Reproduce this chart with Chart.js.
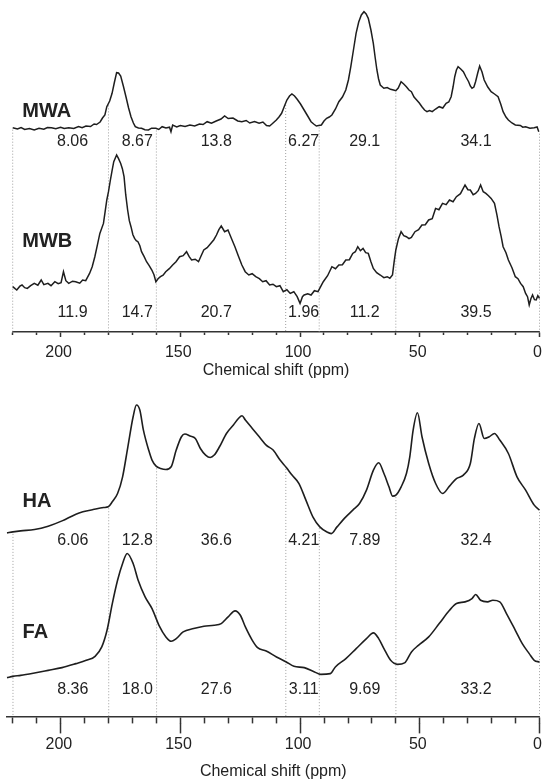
<!DOCTYPE html>
<html>
<head>
<meta charset="utf-8">
<script src="https://cdn.jsdelivr.net/npm/chart.js@4.4.1/dist/chart.umd.min.js"></script>
<style>
  html, body { margin: 0; padding: 0; background: #fff; overflow: hidden; }
  canvas { position: absolute; left: 0; }
</style>
</head>
<body>
<canvas id="topChart" width="542" height="390" style="top:0"></canvas>
<canvas id="bottomChart" width="542" height="391" style="top:390px"></canvas>
<script>
// Region limits and tick values (ppm)
const regionBounds = [220, 180, 160, 106, 92, 60, 0];
const labelPpm = [195, 168, 135, 98.5, 73, 26.5];
const majorTicks = [0, 50, 100, 150, 200];
const minorTicks = [0, 10, 20, 30, 40, 50, 60, 70, 80, 90, 100, 110, 120, 130, 140, 150, 160, 170, 180, 190, 200, 210, 220];

// Relative areas (%) per region
const mwaArea = [8.06, 8.67, 13.8, 6.27, 29.1, 34.1];
const mwbArea = [11.9, 14.7, 20.7, 1.96, 11.2, 39.5];
const haArea = [6.06, 12.8, 36.6, 4.21, 7.89, 32.4];
const faArea = [8.36, 18.0, 27.6, 3.11, 9.69, 33.2];

// Spectra (ppm, signal)
const mwaPpm = [220, 218, 216.5, 215, 213, 211, 209, 207, 205.5, 203.8, 202, 200, 198.5, 196.6, 194.5, 192.5, 191, 189.4, 187.5, 186, 185, 183.5, 182.5, 181.5, 180.7, 179.5, 178.5, 177.5, 176.6, 175.8, 174.9, 173.8, 172.7, 171.6, 170.6, 169.6, 168.8, 167.5, 166.2, 164.8, 163.3, 162, 160.2, 159, 157.6, 156, 154.5, 153.9, 153.2, 151.5, 150, 148, 146, 144, 142, 140.5, 138.8, 137, 135, 133, 131.5, 130, 128, 126, 124.3, 122.5, 121, 119, 117.1, 115.5, 114, 112.7, 111.5, 109.9, 108.8, 107.7, 106.5, 105.5, 104.4, 103.4, 102.3, 101.2, 99.8, 98.3, 96.8, 95.4, 94.3, 93.2, 92.2, 91.1, 90, 88.9, 87.8, 86.7, 85.2, 83.8, 82.3, 80.9, 79.8, 78.8, 77.7, 76.6, 75.5, 74.4, 73.3, 72.4, 71.5, 70.4, 69.4, 68.6, 67.9, 67.2, 66.5, 65, 63.6, 62.2, 61, 60, 59, 57.8, 56.7, 55.6, 54.5, 53.5, 52.4, 51.3, 50.2, 49.1, 48, 47, 45.9, 44.8, 43.4, 41.9, 40.4, 39, 37.9, 36.9, 36.1, 35.4, 34.7, 34, 32.9, 31.8, 30.7, 29.6, 28.9, 28.2, 27.4, 26.7, 25.8, 25, 24, 23.1, 21.6, 20.2, 18.8, 17.3, 16.2, 15.2, 14, 13, 11.5, 10.1, 8, 7, 5.8, 4, 2.2, 1, 0.3];
const mwaSignal = [2.3, 1, 2.5, 0.5, 1.5, 0, 1.8, 0.8, 2.5, 2.3, 1.2, 2.8, 1.5, 2.3, 1.5, 3.5, 2.2, 4, 3.5, 6, 5.5, 8, 12, 15, 23.3, 29, 36.7, 48, 57.3, 57, 54, 44, 33.3, 22, 13.3, 7, 3.3, 2, 1.7, 0.3, 0, 1.8, 1.7, 0.5, 3.3, 2, 2.8, -1.7, 5, 3, 4.5, 3.5, 5, 4, 6, 5.5, 8.3, 6.8, 9, 11, 14, 11.5, 12, 9, 8.3, 9.5, 7, 8.5, 6.7, 8, 4.5, 4, 6.5, 10, 13, 16.7, 24, 30, 34, 36, 34, 30.7, 26, 20, 14, 8.3, 6, 4, 4.5, 5, 9, 11.7, 13, 15, 21, 28.3, 33, 40, 50, 63.3, 80, 96.7, 108, 115, 118.3, 116, 111.7, 100, 86.7, 72, 60, 51, 45, 41.7, 42.5, 40.7, 40, 39.3, 42, 48.3, 46, 43.3, 40, 38.3, 33, 30, 27, 23.3, 20, 18.3, 19.5, 18.3, 21, 23.3, 22, 26.7, 28, 33.3, 43, 53.3, 60, 63.3, 61, 58.3, 53, 48.3, 44, 41.7, 43, 48.3, 57, 64, 58, 50, 43, 38.3, 36, 33.3, 26, 18.3, 13, 10, 7, 5, 4.5, 2.8, 3.3, 1.8, 2.3, 3, -1.7];

const mwbPpm = [220, 219, 218.3, 217, 216.1, 215, 213.9, 212.5, 211, 209.5, 208.1, 207, 205.3, 204, 202.4, 201, 199.8, 198.8, 197.8, 196.6, 195, 193.7, 192, 190.8, 189.5, 187.9, 186.8, 185.7, 184.6, 183.6, 182.1, 181.4, 180.7, 180, 179.2, 178.5, 177.8, 176.6, 175.8, 174.9, 174.2, 173.5, 172.8, 172, 171.3, 170.6, 169.8, 169.1, 168.4, 167.7, 166.9, 166.2, 165.1, 164.1, 163, 161.9, 161, 160.2, 159.3, 158.3, 157.2, 156.1, 154.6, 153.2, 151.8, 150.3, 148.8, 147.4, 146.3, 145.3, 143.8, 142.4, 141.3, 140.2, 138.8, 137.3, 136, 134.9, 133.9, 132.9, 131.5, 130.1, 128.6, 127.2, 125.8, 124.3, 122.9, 121.4, 120, 118.5, 117, 115.6, 114.2, 112.7, 111.3, 109.9, 108.4, 107, 105.5, 104.1, 102.6, 101.2, 100, 99, 98.3, 96.8, 95.4, 94, 92.5, 91.4, 90.3, 88.5, 86.7, 85.2, 83.8, 82.3, 80.9, 79.4, 78, 76.9, 75.9, 74.8, 73.7, 72.6, 71.5, 70.4, 69.4, 68, 66.5, 65, 63.6, 62.5, 61.4, 60.7, 60, 58.9, 57.8, 56.7, 55.6, 54.5, 53.5, 52, 50.5, 49.1, 47.7, 46.3, 44.8, 43.4, 42, 40.5, 39, 37.6, 36.1, 34.7, 33, 31.1, 29.9, 28.9, 27.7, 26.7, 25.6, 24.6, 23.5, 22.4, 21.3, 20.2, 18.8, 17.8, 16.9, 16, 15.2, 14, 13, 11.5, 10.1, 9, 7.9, 6.8, 5.8, 5, 4.3, 3.6, 2.9, 2.1, 1.4, 0.7, 0];
const mwbSignal = [0, -2, -3.3, 0.5, 1.7, -1, -1.7, 1, 3.3, 1.5, 6.7, 2, 3.3, 1, 5, 3, 4, 15, 6, 3.3, 5.5, 5, 3.5, 6.7, 6, 13.3, 20, 30, 42, 53.3, 63.3, 75, 86.7, 95, 106.7, 116, 125, 131.7, 128, 123.3, 118, 110, 92, 76.7, 66, 60, 52, 48.3, 46, 45, 41, 35, 30, 25, 21, 16.7, 12, 5, 8, 10, 11.5, 15, 18, 21.7, 25, 30, 31, 35, 30, 26.7, 27.5, 25, 31, 36.7, 39, 43.3, 47, 51.7, 57, 60.7, 55, 56.7, 48, 40, 31, 21.7, 15, 11.7, 13, 10, 8, 5, 6, 1.7, 2.5, 0, 1, -5, -3, -6.7, -5, -10, -16.7, -10, -8.3, -7, -8.3, -4, -5, 0, 5, 11, 20, 18, 21.7, 22, 26.7, 27, 33.3, 35, 40, 36, 38.3, 34, 33.3, 25, 18.3, 14, 11.7, 9, 10, 8.5, 11.7, 25, 36.7, 48, 55, 51, 50, 48, 49.3, 55, 57, 61.7, 62, 66.7, 68, 78.3, 77, 83.3, 82, 86.7, 85, 90, 93, 101.7, 97, 96.7, 92, 93.3, 96, 101.7, 95, 93.3, 91, 88.3, 83.3, 72, 60, 50, 40, 34, 26.7, 19, 10, 8, 3.3, 0, -6.7, -10, -18.3, -12, -8.3, -13, -13.3, -9, -11.7];

const haPpm = [222.5, 220, 216.8, 211, 205.3, 199.5, 193.7, 190.8, 186.5, 182.1, 180.2, 178.5, 176.3, 174.2, 172, 169.8, 168.4, 167, 165.5, 163.3, 161.9, 160.2, 158.3, 156.1, 153.9, 151.8, 149.6, 148.2, 146, 143.8, 141.7, 139.5, 137.6, 135.9, 133.7, 130.8, 127.9, 125.8, 124.3, 122.9, 120, 117.1, 114.2, 111.3, 108.4, 105.8, 103.4, 100.5, 97.6, 94.7, 91.8, 88.9, 87, 84.6, 80.9, 78, 75.2, 72.3, 69.4, 67.2, 65, 62.9, 61.4, 60, 57.8, 55.6, 54.2, 52.8, 51, 49.1, 46.3, 43.4, 40.5, 37.6, 34.7, 31.8, 28.9, 27.2, 25.3, 23.1, 21, 18.8, 16.6, 13, 9.4, 5.8, 2.2, 0];
const haSignal = [0, 1, 2, 3.3, 6.7, 12, 18.7, 21, 23.3, 25.3, 26, 31, 39.3, 56, 86, 116, 127.7, 122.7, 102.7, 82.7, 72.7, 66.7, 64.3, 63.3, 66, 82.7, 96, 98.7, 96.7, 94.3, 84.3, 77.7, 75.3, 77.7, 86, 99.3, 107.7, 114.3, 117, 112.7, 104.3, 96, 87.7, 82.7, 72.7, 65.3, 57.7, 49.3, 32.7, 16, 6, 1, -0.7, 6, 16, 22.7, 29.3, 42.7, 62.7, 70, 59.3, 46, 36.7, 37.7, 46, 59.3, 76, 102.7, 120, 96, 69.3, 49.3, 39.3, 46.7, 54.3, 57.7, 69.3, 94.3, 109.3, 94.3, 96, 99.3, 92.7, 79.3, 56, 42.7, 27.7, 22.7];

const faPpm = [222.5, 220, 216.8, 211, 205.3, 199.5, 193.7, 189.4, 185.7, 182.9, 180.7, 178.5, 176.3, 174.2, 172.3, 169.8, 167.7, 164.8, 161.9, 159, 156.1, 153.9, 151.8, 148.9, 144.5, 140.2, 135.9, 133, 130.1, 127.2, 125, 122.9, 120, 117.8, 114.2, 109.9, 105.8, 102.6, 98.3, 94, 91.4, 87.4, 85.3, 80.9, 76.6, 72.3, 69.4, 67.2, 65, 62.2, 59.3, 56.4, 53.5, 50.6, 46.3, 41.9, 37.6, 34.7, 31.1, 28.2, 26.7, 24.6, 21.7, 19.5, 16.6, 13.8, 10.1, 7.2, 4.3, 2.2, 0];
const faSignal = [0, 1.3, 2.3, 4.7, 7.3, 10, 14, 17.3, 21.3, 30.7, 47.3, 74, 97.3, 114, 124, 114, 97.3, 80.7, 69, 52.3, 40.7, 36.3, 39, 45.7, 49, 51.3, 52.3, 54, 60.7, 66.7, 62.3, 50.7, 37.3, 30, 26.7, 20.7, 15.7, 11.3, 10, 5.7, 3.3, 4, 10.7, 19, 29, 39, 44.7, 39, 29, 17.3, 13.3, 14.7, 25.7, 32.3, 40.7, 54, 67.3, 74, 75.7, 79, 83, 77.3, 75.7, 77.3, 75.7, 64, 47.3, 34, 24, 17.3, 15.7];

const FONT = '"Liberation Sans", Arial, Helvetica, sans-serif';
const INK = "#1e1e1e";

function toPoints(ppm, signal, offset) {
  return ppm.map((p, i) => ({ x: p, y: signal[i] + offset }));
}

// linear read of a spectrum at a given shift
function signalAt(ppm, signal, at) {
  for (let i = 0; i < ppm.length - 1; i++) {
    if (at <= ppm[i] && at >= ppm[i + 1]) {
      const t = (ppm[i] - at) / (ppm[i] - ppm[i + 1] || 1);
      return signal[i] + t * (signal[i + 1] - signal[i]);
    }
  }
  return signal[signal.length - 1];
}

function trace(ppm, signal, offset, smooth) {
  return {
    data: toPoints(ppm, signal, offset),
    borderColor: INK,
    borderWidth: smooth ? 1.6 : 1.5,
    pointRadius: 0,
    tension: 0,
    cubicInterpolationMode: smooth ? "monotone" : "default",
    clip: 6,
  };
}

function boundaryLines(ppm, signal, offset) {
  return regionBounds.map((b) => ({
    data: [
      { x: b, y: signalAt(ppm, signal, b) + offset - 2 },
      { x: b, y: 0 },
    ],
    borderColor: "#a0a0a0",
    borderWidth: 1,
    borderDash: [1, 2],
    pointRadius: 0,
    clip: 4,
  }));
}

function textPlugin(rows, names) {
  return {
    id: "areaText",
    afterDatasetsDraw(chart) {
      const { ctx, scales } = chart;
      const x = scales.x, y = scales.y;
      ctx.save();
      ctx.fillStyle = "#222";
      ctx.font = "16px " + FONT;
      ctx.textAlign = "center";
      ctx.textBaseline = "middle";
      rows.forEach((row) => {
        row.values.forEach((v, i) => {
          ctx.fillText(v.toPrecision(3), x.getPixelForValue(labelPpm[i]), y.getPixelForValue(row.y));
        });
      });
      ctx.font = "bold 20px " + FONT;
      ctx.textAlign = "left";
      ctx.textBaseline = "alphabetic";
      names.forEach((n) => {
        ctx.fillText(n.text, x.getPixelForValue(216), y.getPixelForValue(n.y));
      });
      ctx.restore();
    },
  };
}

function scales(xMax, yMax, minorLen, majorLen, labelPad, titlePad) {
  return {
    x: {
      type: "linear", min: 0, max: xMax, reverse: true,
      afterBuildTicks: (s) => { s.ticks = minorTicks.map((v) => ({ value: v })); },
      grid: { drawOnChartArea: false, tickLength: minorLen, tickColor: "#333", tickWidth: 1.5 },
      border: { color: "#333", width: 1.5 },
      ticks: { display: false },
    },
    x2: {
      type: "linear", position: "bottom", min: 0, max: xMax, reverse: true,
      afterBuildTicks: (s) => { s.ticks = majorTicks.map((v) => ({ value: v })); },
      grid: { drawOnChartArea: false, tickLength: majorLen, tickColor: "#333", tickWidth: 1.5 },
      border: { display: false },
      ticks: {
        color: "#222", font: { family: FONT, size: 16 },
        padding: labelPad, labelOffset: -2, maxRotation: 0, autoSkip: false,
      },
      title: {
        display: true, text: "Chemical shift (ppm)", color: "#222",
        font: { family: FONT, size: 16 }, padding: { top: titlePad, bottom: 0 },
      },
    },
    y: { display: false, min: 0, max: yMax },
  };
}

function baseOptions(pad, sc) {
  return {
    responsive: false,
    animation: false,
    devicePixelRatio: 1,
    events: [],
    layout: { padding: pad },
    plugins: { legend: { display: false }, tooltip: { enabled: false } },
    scales: sc,
  };
}

// Top panel: MWA and MWB
const mwaOffset = 202, mwbOffset = 45.3;
new Chart(document.getElementById("topChart"), {
  type: "line",
  data: {
    datasets: [
      trace(mwaPpm, mwaSignal, mwaOffset, false),
      trace(mwbPpm, mwbSignal, mwbOffset, false),
      ...boundaryLines(mwaPpm, mwaSignal, mwaOffset),
    ],
  },
  options: baseOptions({ left: 12.7, right: 2.5, top: 0, bottom: 9.8 }, scales(220, 332, 3, 2, 6.4, -8)),
  plugins: [
    textPlugin(
      [{ values: mwaArea, y: 190.3 }, { values: mwbArea, y: 19.5 }],
      [{ text: "MWA", y: 215.3 }, { text: "MWB", y: 85.3 }]
    ),
  ],
});

// Bottom panel: HA and FA
const haOffset = 183.3, faOffset = 38.7;
new Chart(document.getElementById("bottomChart"), {
  type: "line",
  data: {
    datasets: [
      trace(haPpm, haSignal, haOffset, true),
      trace(faPpm, faSignal, faOffset, true),
      ...boundaryLines(haPpm, haSignal, haOffset),
    ],
  },
  options: baseOptions({ left: 7, right: 2.5, top: 0, bottom: 0 }, scales(222.5, 326, 7, 10, 1.4, 6.4)),
  plugins: [
    textPlugin(
      [{ values: haArea, y: 176 }, { values: faArea, y: 26.5 }],
      [{ text: "HA", y: 208.7 }, { text: "FA", y: 78.7 }]
    ),
  ],
});
</script>
</body>
</html>
